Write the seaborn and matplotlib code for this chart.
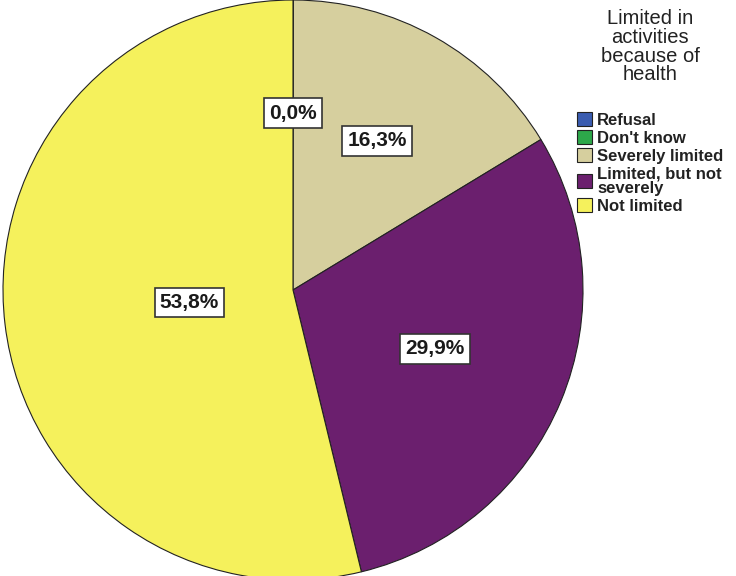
import numpy as np
import matplotlib.pyplot as plt
import seaborn as sns

# Data
categories = ["Refusal", "Don't know", "Severely limited", "Limited, but not\nseverely", "Not limited"]
percents = [0.01, 0.01, 16.3, 29.9, 53.8]
shown = [False, True, True, True, True]
colors = ["#3a5cb0", "#2da84a", "#d6cf9e", "#6b1f6e", "#f5f15c"]
label_radius = [0.61, 0.61, 0.59, 0.53, 0.36]


def main():
    sns.set_style("white")
    plt.rcParams['font.family'] = ['Liberation Sans', 'DejaVu Sans']

    fig = plt.figure(figsize=(7.36, 5.76), dpi=100)
    # pie centre ~ (293, 290) px, radius ~ 290 px
    cx, cy, r = 293, 290, 290
    ax = fig.add_axes([(cx - r) / 736, (576 - cy - r) / 576, 2 * r / 736, 2 * r / 576])

    wedges, _ = ax.pie(percents, colors=colors, startangle=90, counterclock=False,
                       wedgeprops=dict(edgecolor="#222222", linewidth=0.8))
    ax.set_xlim(-1, 1)
    ax.set_ylim(-1, 1)
    ax.set_aspect("auto")

    # Labels in white boxes
    for w, p, show, rr in zip(wedges, percents, shown, label_radius):
        if not show:
            continue
        ang = np.deg2rad((w.theta1 + w.theta2) / 2)
        txt = f"{p:.1f}%".replace(".", ",")
        ax.text(rr * np.cos(ang), rr * np.sin(ang), txt, ha="center", va="center",
                fontsize=15, fontweight="bold", color="#1a1a1a",
                bbox=dict(boxstyle="square,pad=0.25", facecolor="white", edgecolor="#333333", linewidth=1.2))

    leg = fig.legend(wedges, categories, title="Limited in\nactivities\nbecause of\nhealth",
                     loc="upper left", bbox_to_anchor=(568 / 736, 1.0), frameon=False,
                     prop=dict(size=12, weight="bold"), title_fontsize=14.5,
                     handlelength=0.9, handleheight=0.9, handletextpad=0.3,
                     labelspacing=0.15, borderaxespad=0.15)
    leg._legend_box.align = "center"
    leg._legend_box.sep = 20
    leg.get_title().set_multialignment("center")
    leg.get_title().set_linespacing(0.98)
    leg.get_title().set_color("#222222")
    for t in leg.get_texts():
        t.set_color("#222222")
        t.set_linespacing(0.92)

    fig.savefig("out.png", dpi=100)


if __name__ == "__main__":
    main()
